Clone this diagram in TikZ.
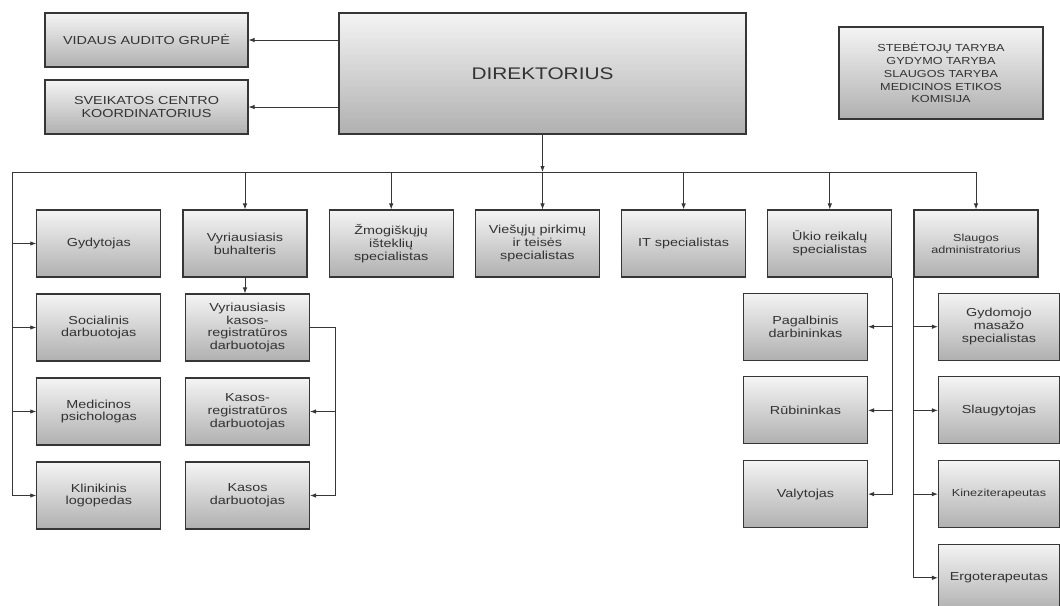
\documentclass[tikz,border=0pt]{standalone}
\usepackage{fontspec}
\setmainfont{Liberation Sans}[FakeStretch=1.24]
\usetikzlibrary{shapes,arrows.meta}
\definecolor{boxtop}{HTML}{F4F4F4}
\definecolor{boxbottom}{HTML}{B0B0B0}
\definecolor{boxline}{HTML}{363636}
\definecolor{boxtext}{HTML}{333333}
\tikzstyle{coord} = [coordinate]
\tikzstyle{block} = [draw=boxline, line width=1.1pt, rectangle, top color=boxtop, bottom color=boxbottom, text=boxtext, align=center, inner sep=0pt, minimum width=124pt, minimum height=67pt, font=\fontsize{11.6}{12.8}\selectfont]
\tikzstyle{topblock} = [block, minimum width=203pt, minimum height=54pt]
\tikzstyle{small} = [font=\fontsize{10.2}{12}\selectfont]
\tikzstyle{conn} = [draw=boxline, line width=0.9pt]

\begin{document}
\begin{tikzpicture}[x=1pt,y=-1pt,>={Latex[length=6pt,width=4.5pt]},node distance=146.2pt]
	\useasboundingbox (0,0) rectangle (1060,605);
	\clip (0,0) rectangle (1060,605);

	% top: director, audit, coordinator, councils
	\node [block,minimum width=407pt,minimum height=121pt,font=\fontsize{16.8}{18}\selectfont] (dir) at (542.5,73.5) {DIREKTORIUS};
	\node [topblock] (audit) at (146.5,40) {VIDAUS AUDITO GRUPĖ};
	\node [topblock] (sck) at (146.5,107) {SVEIKATOS CENTRO\\KOORDINATORIUS};
	\node [block,minimum width=204pt,minimum height=92pt,font=\fontsize{10.2}{12.7}\selectfont] (tarybos) at (941,73) {STEBĖTOJŲ TARYBA\\GYDYMO TARYBA\\SLAUGOS TARYBA\\MEDICINOS ETIKOS\\KOMISIJA};

	% first row under the bus
	\node [block] (gyd) at (98.8,243.5) {Gydytojas};
	\node [block,right of=gyd] (buh) {Vyriausiasis\\buhalteris};
	\node [block,right of=buh] (zmog) {Žmogiškųjų\\išteklių\\specialistas};
	\node [block,right of=zmog] (pirk) {Viešųjų pirkimų\\ir teisės\\specialistas};
	\node [block,right of=pirk] (it) {IT specialistas};
	\node [block,right of=it] (ukio) {Ūkio reikalų\\specialistas};
	\node [block,small,right of=ukio] (slaug) {Slaugos\\administratorius};

	% left columns
	\node [block,node distance=84pt,below of=gyd] (soc) {Socialinis\\darbuotojas};
	\node [block,node distance=84pt,below of=soc] (med) {Medicinos\\psichologas};
	\node [block,node distance=84pt,below of=med] (klin) {Klinikinis\\logopedas};
	\node [block,node distance=84pt,below of=buh,xshift=2.5pt] (kasos1) {Vyriausiasis\\kasos-\\registratūros\\darbuotojas};
	\node [block,node distance=84pt,below of=kasos1] (kasos2) {Kasos-\\registratūros\\darbuotojas};
	\node [block,node distance=84pt,below of=kasos2] (kasos3) {Kasos\\darbuotojas};

	% right columns
	\node [block] (pag) at (805.5,326.7) {Pagalbinis\\darbininkas};
	\node [block,node distance=83.7pt,below of=pag] (rub) {Rūbininkas};
	\node [block,node distance=83.7pt,below of=rub] (val) {Valytojas};
	\node [block,minimum width=121pt] (masaz) at (999,326.7) {Gydomojo\\masažo\\specialistas};
	\node [block,minimum width=121pt,node distance=83.7pt,below of=masaz] (slgt) {Slaugytojas};
	\node [block,small,minimum width=121pt,node distance=83.7pt,below of=slgt] (kinez) {Kineziterapeutas};
	\node [block,minimum width=121pt,node distance=83.7pt,below of=kinez] (ergo) {Ergoterapeutas};

	% bus points
	\node [coord] (bus) at (542.5,172) {};
	\node [coord] (bl) at (12,172) {};
	\node [coord] (kr) at (335,327.5) {};

	% director to the top boxes and the bus
	\draw [conn,->] (dir.west |- audit) -- (audit);
	\draw [conn,->] (dir.west |- sck) -- (sck);
	\draw [conn,->] (dir) -- (bus);
	\draw [conn] (bl) -- (slaug |- bus);

	% bus down to the first row
	\draw [conn,->] (buh |- bus) -- (buh);
	\draw [conn,->] (zmog |- bus) -- (zmog);
	\draw [conn,->] (bus) -- (bus |- pirk.north);
	\draw [conn,->] (it |- bus) -- (it);
	\draw [conn,->] (ukio |- bus) -- (ukio);
	\draw [conn,->] (slaug |- bus) -- (slaug);

	% left feed
	\draw [conn,->] (bl) |- (gyd);
	\draw [conn,->] (bl) |- (soc);
	\draw [conn,->] (bl) |- (med);
	\draw [conn,->] (bl) |- (klin);

	% cashiers
	\draw [conn,->] (buh) -- (buh |- kasos1.north);
	\draw [conn,->] (kasos1.east) -- (kr) |- (kasos2);
	\draw [conn,->] (kr) |- (kasos3);

	% household
	\draw [conn,->] (ukio.south east) |- (pag);
	\draw [conn,->] (ukio.south east) |- (rub);
	\draw [conn,->] (ukio.south east) |- (val);

	% nursing
	\draw [conn,->] (slaug.south west) |- (masaz);
	\draw [conn,->] (slaug.south west) |- (slgt);
	\draw [conn,->] (slaug.south west) |- (kinez);
	\draw [conn,->] (slaug.south west) |- (ergo);

\end{tikzpicture}
\end{document}
